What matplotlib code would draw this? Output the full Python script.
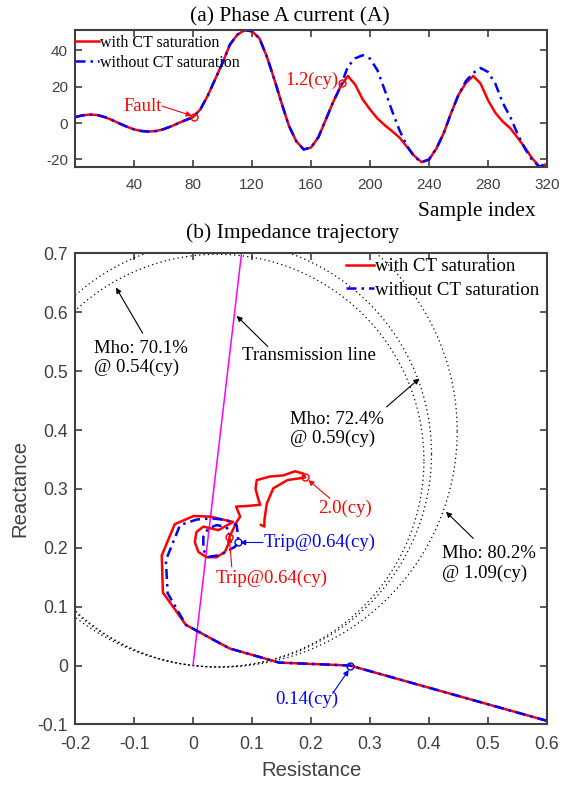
import numpy as np
import matplotlib
matplotlib.use('Agg')
import matplotlib.pyplot as plt

plt.rcParams['axes.unicode_minus'] = False
SERIF = 'Liberation Serif'
SANS = 'Liberation Sans'
GREY = '#404040'

# ---------------- (a) phase A current ----------------
samp_common = [0, 5, 10, 15, 20, 25, 30, 35, 40, 45, 50, 55, 60, 65, 70, 75, 80,
               85, 90, 95, 100, 105, 110, 115, 120, 125, 130, 135, 140, 145, 150,
               155, 160, 165, 170, 175, 180]
cur_common = [3.2, 4.2, 4.6, 4.4, 3.3, 1.7, -0.2, -2.0, -3.5, -4.4, -4.7, -4.4, -3.4,
              -1.9, -0.1, 1.6, 3.2, 7.5, 15.0, 24.0, 33.0, 43.0, 48.4, 51.0, 50.3,
              46.5, 36.5, 24.3, 11.0, -1.5, -10.0, -14.5, -13.5, -7.8, 1.8, 11.5, 20.0]
samp_tail = [185, 190, 195, 200, 205, 210, 215, 220, 225, 230, 235, 240, 245, 250,
             255, 260, 265, 270, 275, 280, 285, 290, 295, 300, 305, 310, 315, 320]
cur_with_tail = [25.8, 21.0, 13.0, 7.5, 2.5, -1.2, -4.5, -8.0, -13.0, -18.0, -21.5,
                 -20.0, -14.0, -5.5, 5.5, 15.5, 22.0, 25.8, 21.6, 12.5, 5.5, 0.8,
                 -2.8, -8.0, -13.5, -19.5, -24.0, -22.5]
cur_without_tail = [31.0, 35.5, 37.2, 35.3, 29.0, 18.0, 6.5, -4.0, -12.5, -18.5, -21.5,
                    -20.0, -14.0, -5.5, 5.5, 15.5, 23.0, 27.5, 30.2, 28.0, 21.5, 11.0,
                    3.5, -6.0, -14.0, -20.5, -24.0, -22.0]
fault_pt = (81, 3.5)
sat_pt = (181.3, 21.8)

# ---------------- (b) impedance trajectory ----------------
line_mag = 1.0
line_ang = 83.3          # degrees
mho_pct = [70.1, 72.4, 80.2]

traj_with_R = [0.600, 0.266, 0.146, 0.062, -0.012, -0.051, -0.053, -0.031, 0.001,
               0.029, 0.068, 0.043, 0.0175, 0.006, 0.003, 0.009, 0.023, 0.040, 0.054,
               0.0616, 0.0616, 0.074, 0.080, 0.073, 0.091, 0.114, 0.110, 0.106, 0.108,
               0.130, 0.153, 0.173, 0.187, 0.190, 0.160, 0.136, 0.125, 0.121, 0.121,
               0.115]
traj_with_X = [-0.094, 0.000, 0.005, 0.029, 0.069, 0.124, 0.187, 0.240, 0.254,
               0.253, 0.244, 0.230, 0.236, 0.227, 0.210, 0.193, 0.184, 0.184, 0.193,
               0.210, 0.218, 0.244, 0.253, 0.270, 0.271, 0.273, 0.285, 0.300, 0.315,
               0.321, 0.323, 0.330, 0.326, 0.3195, 0.315, 0.301, 0.275, 0.247, 0.236,
               0.239]
traj_without_R = [0.600, 0.266, 0.146, 0.062, -0.012, -0.043, -0.046, -0.022, 0.006,
                  0.032, 0.057, 0.074, 0.0757, 0.0768, 0.071, 0.046, 0.026, 0.0175,
                  0.0175, 0.026, 0.040, 0.055, 0.063, 0.060]
traj_without_X = [-0.094, 0.000, 0.005, 0.029, 0.069, 0.123, 0.179, 0.2385, 0.248,
                  0.250, 0.247, 0.2385, 0.2244, 0.2105, 0.2017, 0.1876, 0.1847, 0.196,
                  0.2187, 0.233, 0.2385, 0.236, 0.228, 0.222]
mark_014 = (0.266, 0.0)
mark_trip_without = (0.0768, 0.2105)
mark_trip_with = (0.0616, 0.2177)
mark_20 = (0.190, 0.3195)

fig = plt.figure(figsize=(5.61, 7.85), dpi=100)
ax1 = fig.add_axes([0.1337, 0.7876, 0.8414, 0.1741])
ax2 = fig.add_axes([0.1337, 0.0772, 0.8414, 0.5999])


def style_axes(ax, fs):
    for sp in ax.spines.values():
        sp.set_color(GREY)
        sp.set_linewidth(1.5)
    ax.tick_params(direction='in', length=5, width=1.2, colors=GREY, labelsize=fs,
                   top=True, right=True)
    ax.tick_params(axis='x', pad=8)
    ax.tick_params(axis='y', pad=5)
    for lab in ax.get_xticklabels() + ax.get_yticklabels():
        lab.set_fontfamily(SANS)


# ---- top plot ----
s_with = samp_common + samp_tail
ax1.plot(s_with, cur_common + cur_with_tail, color='red', lw=1.8,
         label='with CT saturation')
ax1.plot(s_with, cur_common + cur_without_tail, color='blue', lw=1.8,
         ls=(0, (4, 2, 1, 2)), label='without CT saturation')
ax1.plot(*fault_pt, 'o', mfc='none', mec='red', ms=5, mew=1)
ax1.plot(*sat_pt, 'o', mfc='none', mec='red', ms=5, mew=1)
ax1.set_xlim(0, 320)
ax1.set_ylim(-24, 51)
ax1.set_xticks([40, 80, 120, 160, 200, 240, 280, 320])
ax1.set_yticks([-20, 0, 20, 40])
style_axes(ax1, 11)
ax1.annotate('', xy=fault_pt, xytext=(59, 9.3),
             arrowprops=dict(arrowstyle='-|>', color='red', lw=0.8, mutation_scale=8,
                             shrinkA=0, shrinkB=2))
ax1.text(59, 9.3, 'Fault', color='red', fontsize=13.4, family=SERIF, ha='right',
         va='center')
ax1.text(178.3, 23.6, '1.2(cy)', color='red', fontsize=13.3, family=SERIF,
         ha='right', va='center')
ax1.text(0.851, -0.33, 'Sample index', transform=ax1.transAxes, fontsize=15.5,
         family=SERIF, ha='center', va='center')
ax1.legend(loc='upper left', bbox_to_anchor=(0.0, 0.965), frameon=False,
           prop={'family': SERIF, 'size': 11.5}, handlelength=1.5,
           handletextpad=0.05, labelspacing=0.25, borderpad=0, borderaxespad=0)
fig.text(0.517, 1 - 16.7 / 785, '(a) Phase A current (A)', fontsize=15.5,
         family=SERIF, ha='center', va='center')

# ---- bottom plot ----
phi = np.deg2rad(line_ang)
t = np.linspace(0, 2 * np.pi, 720)
for p in mho_pct:
    r = p / 100 * line_mag / 2
    cx, cy = r * np.cos(phi), r * np.sin(phi)
    ax2.plot(cx + r * np.cos(t), cy + r * np.sin(t), color='black', lw=0.9,
             ls=(0, (1, 2.5)))
ax2.plot([0, line_mag * np.cos(phi)], [0, line_mag * np.sin(phi)], color='#ff00ff',
         lw=1.1)
ax2.plot(traj_with_R, traj_with_X, color='red', lw=1.8, label='with CT saturation')
ax2.plot(traj_without_R, traj_without_X, color='blue', lw=1.8, ls=(0, (4, 2, 1, 2)),
         label='without CT saturation')
ax2.plot(*mark_014, 'o', mfc='none', mec='blue', ms=5, mew=1)
ax2.plot(*mark_trip_without, 'o', mfc='none', mec='blue', ms=5, mew=1)
ax2.plot(*mark_trip_with, 'o', mfc='none', mec='red', ms=5, mew=1)
ax2.plot(*mark_20, 'o', mfc='none', mec='red', ms=5, mew=1)
ax2.set_xlim(-0.2, 0.6)
ax2.set_ylim(-0.1, 0.7)
xt = [-0.2, -0.1, 0, 0.1, 0.2, 0.3, 0.4, 0.5, 0.6]
yt = [-0.1, 0, 0.1, 0.2, 0.3, 0.4, 0.5, 0.6, 0.7]
ax2.set_xticks(xt)
ax2.set_xticklabels(['%g' % v for v in xt])
ax2.set_yticks(yt)
ax2.set_yticklabels(['%g' % v for v in yt])
style_axes(ax2, 12.7)
ax2.set_xlabel('Resistance', fontsize=14.6, family=SANS, color=GREY, labelpad=6)
ax2.set_ylabel('Reactance', fontsize=14.6, family=SANS, color=GREY, labelpad=6)
ax2.legend(loc='upper left', bbox_to_anchor=(0.575, 0.99), frameon=False,
           prop={'family': SERIF, 'size': 13.5}, handlelength=1.45,
           handletextpad=0.05, labelspacing=0.35, borderpad=0, borderaxespad=0)
fig.text(0.522, 1 - 233 / 785, '(b) Impedance trajectory', fontsize=15.5,
         family=SERIF, ha='center', va='center')


def note(text, xy_text, tip, start, color='black'):
    ax2.annotate('', xy=tip, xytext=start,
                 arrowprops=dict(arrowstyle='-|>', color=color, lw=0.8,
                                 mutation_scale=8, shrinkA=0, shrinkB=0))
    ax2.text(xy_text[0], xy_text[1], text, color=color, fontsize=13.5, family=SERIF,
             ha='left', va='center', linespacing=1.15)


note('Mho: 70.1%\n@ 0.54(cy)', (-0.168, 0.523), (-0.1305, 0.642), (-0.0853, 0.5645))
note('Transmission line', (0.0825, 0.527), (0.074, 0.594), (0.1266, 0.542))
note('Mho: 72.4%\n@ 0.59(cy)', (0.1644, 0.402), (0.3836, 0.4876), (0.328, 0.4394))
note('Mho: 80.2%\n@ 1.09(cy)', (0.4215, 0.1735), (0.4288, 0.2611), (0.475, 0.216))
note('2.0(cy)', (0.2119, 0.267), (0.1954, 0.315), (0.232, 0.284), 'red')
note('Trip@0.64(cy)', (0.119, 0.209), (0.0797, 0.209), (0.1186, 0.209), 'blue')
note('Trip@0.64(cy)', (0.039, 0.148), (0.0615, 0.2187), (0.0656, 0.1677), 'red')
note('0.14(cy)', (0.1398, -0.0574), (0.264, -0.0076), (0.2368, -0.0472), 'blue')

fig.savefig('out.png', dpi=100)
